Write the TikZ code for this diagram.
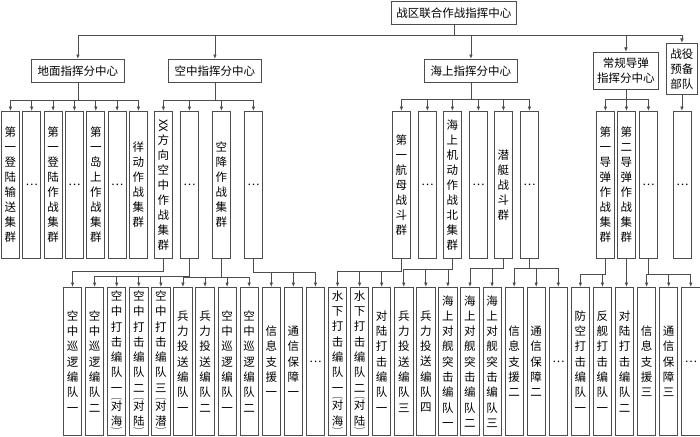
\documentclass[tikz,border=0pt]{standalone}
\usepackage{fontspec}
\setmainfont{Noto Sans CJK SC}
\usepackage{graphicx}
\usetikzlibrary{arrows.meta}
\definecolor{linegray}{HTML}{4D4D4D}
% bracket pair set vertically: (对海)
\newcommand{\aimtag}[2]{\\[-8.5pt]\scalebox{1}[0.5]{︵}\\[-4.3pt]#1\\#2\\[-8.5pt]\scalebox{1}[0.5]{︶}}

\tikzset{
  box/.style={draw=linegray, line width=0.8pt, inner sep=0pt, align=center,
    font=\fontsize{11.5}{15}\selectfont},
  head/.style={box, anchor=north west, minimum height=23pt},
  colbox/.style={box, anchor=north west, minimum width=18pt, minimum height=147pt, text width=12pt},
  unitbox/.style={box, anchor=north west, minimum width=18.3pt, minimum height=148pt, text width=12pt,
    font=\fontsize{11.5}{15.3}\selectfont},
  link/.style={draw=linegray, line width=0.8pt, -{Latex[length=4.5pt,width=3.6pt]}},
}

\begin{document}
\begin{tikzpicture}[x=1pt, y=-1pt]
		\useasboundingbox (0,0) rectangle (700,436);
		% Comando
		\node[head, minimum width=125pt] (top) at (391,1) {战区联合作战指挥中心};
		\node[head, minimum width=93pt] (gnd) at (31,59) {地面指挥分中心};
		\node[head, minimum width=93pt] (air) at (168,59) {空中指挥分中心};
		\node[head, minimum width=93pt] (sea) at (424,59) {海上指挥分中心};
		\node[box, anchor=north west, minimum width=65pt, minimum height=37pt] (msl) at (593,52) {常规导弹\\指挥分中心};
		\node[box, anchor=north west, minimum width=31pt, minimum height=51pt] (res) at (666,43) {战役\\预备\\部队};
		\foreach \n in {gnd,air,sea,msl,res}
			\draw[link] (top.south) -- ++(0,11) -| (\n.north);
		% Gruppi
		\foreach \i/\x/\t in {1/1/{第\\一\\登\\陆\\输\\送\\集\\群}, 2/22.3/…,
				3/43.7/{第\\一\\登\\陆\\作\\战\\集\\群}, 4/65/…,
				5/86.4/{第\\一\\岛\\上\\作\\战\\集\\群}, 6/107.7/…, 7/129/{徉\\动\\作\\战\\集\\群}}
			\node[colbox] (g\i) at (\x,111) {\t};
		\foreach \i/\x/\t in {1/154/{\rotatebox[origin=c]{-90}{XX}\\方\\向\\空\\中\\作\\战\\集\\群}, 2/180/…,
				3/212/{空\\降\\作\\战\\集\\群}, 4/244/…}
			\node[colbox] (a\i) at (\x,111) {\t};
		\foreach \i/\x/\t in {1/392/{第\\一\\航\\母\\战\\斗\\群}, 2/418/…,
				3/443/{海\\上\\机\\动\\作\\战\\北\\集\\群}, 4/469/…, 5/494/{潜\\艇\\战\\斗\\群}, 6/520/…}
			\node[colbox] (s\i) at (\x,111) {\t};
		\foreach \i/\x/\t in {1/596/{第\\一\\导\\弹\\作\\战\\集\\群}, 2/617/{第\\二\\导\\弹\\作\\战\\集\\群}, 3/639/…}
			\node[colbox] (m\i) at (\x,111) {\t};
		\node[colbox] (r1) at (673,111) {…};
		\foreach \i in {1,...,7} \draw[link] (gnd.south) -- ++(0,18) -| (g\i.north);
		\foreach \i in {1,...,4} \draw[link] (air.south) -- ++(0,18) -| (a\i.north);
		\foreach \i in {1,...,6} \draw[link] (sea.south) -- ++(0,17) -| (s\i.north);
		\foreach \i in {1,2,3} \draw[link] (msl.south) -- ++(0,10) -| (m\i.north);
		\draw[link] (res.south) -- (res.south |- r1.north);
		% Reparti
		\foreach \t [count=\i] in {{空\\中\\巡\\逻\\编\\队\\一}, {空\\中\\巡\\逻\\编\\队\\二},
				{空\\中\\打\\击\\编\\队\\一\aimtag{对}{海}}, {空\\中\\打\\击\\编\\队\\二\aimtag{对}{陆}},
				{空\\中\\打\\击\\编\\队\\三\aimtag{对}{潜}}, {兵\\力\\投\\送\\编\\队\\一}, {兵\\力\\投\\送\\编\\队\\二},
				{空\\中\\巡\\逻\\编\\队\\一}, {空\\中\\巡\\逻\\编\\队\\二}, {信\\息\\支\\援\\一}, {通\\信\\保\\障\\一}, …,
				{水\\下\\打\\击\\编\\队\\一\aimtag{对}{海}}, {水\\下\\打\\击\\编\\队\\二\aimtag{对}{陆}},
				{对\\陆\\打\\击\\编\\队\\一}, {兵\\力\\投\\送\\编\\队\\三}, {兵\\力\\投\\送\\编\\队\\四},
				{海\\上\\对\\舰\\突\\击\\编\\队\\一}, {海\\上\\对\\舰\\突\\击\\编\\队\\二}, {海\\上\\对\\舰\\突\\击\\编\\队\\三},
				{信\\息\\支\\援\\二}, {通\\信\\保\\障\\二}, …,
				{防\\空\\打\\击\\编\\队\\一}, {反\\舰\\打\\击\\编\\队\\一}, {对\\陆\\打\\击\\编\\队\\二},
				{信\\息\\支\\援\\三}, {通\\信\\保\\障\\三}, …}
			\node[unitbox] (c\i) at ({63+22.08*(\i-1)},287) {\t};
		\draw[link] (a1.south) -- ++(0,13) -| (c1.north);
		\foreach \i in {2,...,5} \draw[link] (a2.south) -- ++(0,18) -| (c\i.north);
		\foreach \i in {6,...,9} \draw[link] (a3.south) -- ++(0,19) -| (c\i.north);
		\foreach \i in {10,11,12} \draw[link] (a4.south) -- ++(0,14) -| (c\i.north);
		\foreach \i in {13,14,15} \draw[link] (s1.south) -- ++(0,13) -| (c\i.north);
		\foreach \i in {16,17,18} \draw[link] (s3.south) -- ++(0,11) -| (c\i.north);
		\foreach \i in {19,20} \draw[link] (s5.south) -- ++(0,10) -| (c\i.north);
		\foreach \i in {21,22,23} \draw[link] (s6.south) -- ++(0,10) -| (c\i.north);
		\foreach \i in {24,25} \draw[link] (m1.south) -- ++(0,16) -| (c\i.north);
		\draw[link] (m2.south) -- (m2.south |- c26.north);
		\foreach \i in {27,28,29} \draw[link] (m3.south) -- ++(0,16) -| (c\i.north);
	\end{tikzpicture}
\end{document}
